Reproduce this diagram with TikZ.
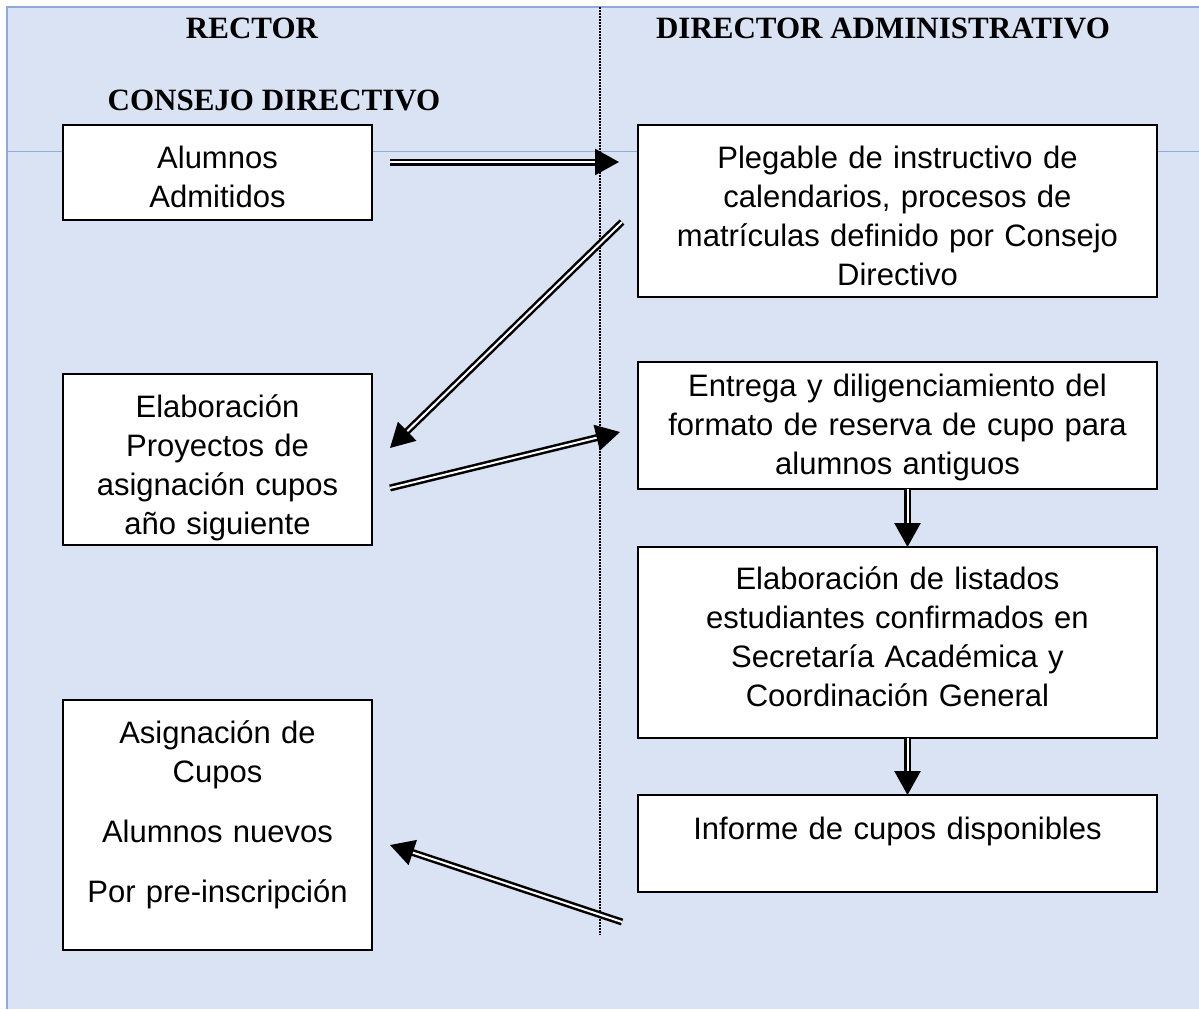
\documentclass[tikz,border=0pt]{standalone}
\usepackage{fontspec}
\setmainfont{Liberation Serif}
\setsansfont{Liberation Sans}
\usetikzlibrary{arrows.meta}
\definecolor{lane}{HTML}{DAE3F3}
\definecolor{laneline}{HTML}{8EAADB}
\tikzset{box/.style = {draw, line width=2pt, fill=white, anchor=north west,
                       inner xsep=5pt, inner ysep=0pt, outer sep=0pt, align=center,
                       text width=#1, font=\sffamily\fontsize{31}{39}\selectfont}}
\tikzset{lead/.style = {execute at begin node={\rule{0pt}{#1}}}}
\tikzset{head/.style = {font=\bfseries\fontsize{31}{37}\selectfont}}
\tikzset{flow/.style = {double=white, double distance=2pt, line width=2.5pt,
                        -{Triangle[length=24pt,width=26pt]}}}

\begin{document}
\begin{tikzpicture}[x=1pt,y=-1pt]
	\useasboundingbox (0,0) rectangle (1199,1009);
	\fill [lane] (6,7) rectangle (1199,1009);
	\draw [laneline, line width=2pt] (7,7) -- (7,1009);
	\draw [laneline, line width=1.5pt] (6,7) -- (1199,7);
	\draw [laneline, line width=1pt] (7,151) -- (1199,151);
	\draw [line width=1.5pt, dash pattern=on 1.5pt off 1.5pt] (600,7) -- (600,935);
	% headings
	\node [head] (rector) at (252,28) {RECTOR};
	\node [head] (consejo) at (274,100) {CONSEJO DIRECTIVO};
	\node [head] (director) at (883,28) {DIRECTOR ADMINISTRATIVO};
	% boxes
	\node [box=299pt, lead=31pt, minimum height=95pt] (admitidos) at (63,125) {Alumnos\\Admitidos};
	\node [box=509pt, lead=33pt, minimum height=172pt] (plegable) at (638,125)
		{Plegable de instructivo de\\calendarios, procesos de\\matrículas definido por Consejo\\Directivo};
	\node [box=299pt, lead=40pt, minimum height=171pt] (proyectos) at (63,374)
		{Elaboración\\Proyectos de\\asignación cupos\\año siguiente};
	\node [box=509pt, lead=27pt, minimum height=127pt] (entrega) at (638,362)
		{Entrega y diligenciamiento del\\formato de reserva de cupo para\\alumnos antiguos};
	\node [box=509pt, minimum height=191pt] (listados) at (638,547)
		{Elaboración de listados\\estudiantes confirmados en\\Secretaría Académica y\\Coordinación General\\[-28pt]\mbox{}};
	\node [box=509pt, lead=30pt, minimum height=97pt] (informe) at (638,795)
		{Informe de cupos disponibles\\ \mbox{}};
	\node [box=299pt, lead=35pt, minimum height=250pt] (asignacion) at (63,700)
		{Asignación de\\Cupos\\[21pt]Alumnos nuevos\\[21pt]Por pre-inscripción\\ \mbox{}};
	% arrows
	\draw [flow] ([shift={(18,-10.5)}]admitidos.east) -- ([shift={(-19,-49)}]plegable.west);
	\draw [flow] ([shift={(-16,11)}]plegable.west) -- ([shift={(18,-11.5)}]proyectos.east);
	\draw [flow] ([shift={(18,28.5)}]proyectos.east) -- ([shift={(-18,6.5)}]entrega.west);
	\draw [flow] ([xshift=10pt]entrega.south) -- ([xshift=10pt]listados.north);
	\draw [flow] ([xshift=10pt]listados.south) -- ([xshift=10pt]informe.north);
	\draw [flow] ([shift={(-16,78.5)}]informe.west) -- ([shift={(18,20)}]asignacion.east);
\end{tikzpicture}
\end{document}
